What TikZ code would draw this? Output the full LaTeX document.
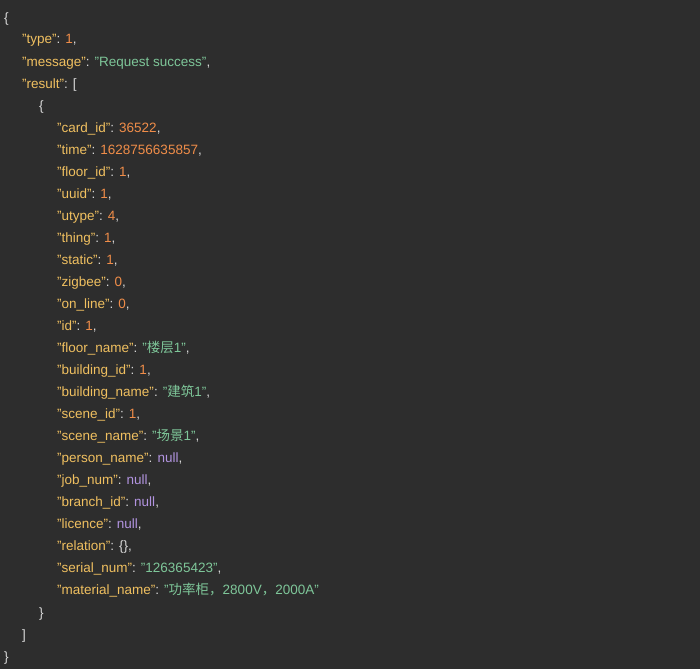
\documentclass[tikz,border=0pt]{standalone}
\usepackage{fontspec}
\setmainfont{Liberation Sans}
\newfontfamily\cjk{Noto Sans CJK SC}
\definecolor{bg}{HTML}{2D2D2D}
\definecolor{ky}{HTML}{F0C060}
\definecolor{nm}{HTML}{F08D49}
\definecolor{st}{HTML}{7EC699}
\definecolor{nl}{HTML}{B294E0}
\definecolor{pn}{HTML}{D8D8D8}
\newcommand\jq{\char34\relax}
\newcommand\jK[1]{\textcolor{ky}{\jq#1\jq}\textcolor{pn}{: }}
\newcommand\jN[1]{\textcolor{nm}{#1}\textcolor{pn}{,}}
\newcommand\jS[1]{\textcolor{st}{\jq#1\jq}}
\newcommand\jNL{\textcolor{nl}{null}\textcolor{pn}{,}}
\catcode`\_=12
\begin{document}
\begin{tikzpicture}[x=1pt,y=-1pt,
  ln/.style={anchor=base west,inner sep=0,font=\fontsize{13.5}{16}\selectfont,text=pn}]
\fill[bg] (0,0) rectangle (700,669);
\useasboundingbox (0,0) rectangle (700,669);
\node[ln] (l1) at (4,23) {\{};
\node[ln] (l2) at (22,44) {\jK{type}\jN{1}};
\node[ln] (l3) at (22,66) {\jK{message}\jS{Request success}\textcolor{pn}{,}};
\node[ln] (l4) at (22,88) {\jK{result}[};
\node[ln] (l5) at (39,110) {\{};
\foreach \i/\t in {0/{\jK{card_id}\jN{36522}},1/{\jK{time}\jN{1628756635857}},2/{\jK{floor_id}\jN{1}},
 3/{\jK{uuid}\jN{1}},4/{\jK{utype}\jN{4}},5/{\jK{thing}\jN{1}},6/{\jK{static}\jN{1}},7/{\jK{zigbee}\jN{0}},
 8/{\jK{on_line}\jN{0}},9/{\jK{id}\jN{1}},10/{\jK{floor_name}\jS{{\cjk 楼层}1}\textcolor{pn}{,}},
 11/{\jK{building_id}\jN{1}},12/{\jK{building_name}\jS{{\cjk 建筑}1}\textcolor{pn}{,}},13/{\jK{scene_id}\jN{1}},
 14/{\jK{scene_name}\jS{{\cjk 场景}1}\textcolor{pn}{,}},15/{\jK{person_name}\jNL},16/{\jK{job_num}\jNL},
 17/{\jK{branch_id}\jNL},18/{\jK{licence}\jNL},19/{\jK{relation}\{\},},
 20/{\jK{serial_num}\jS{126365423}\textcolor{pn}{,}},21/{\jK{material_name}\jS{{\cjk 功率柜，}2800V{\cjk ，}2000A}}}
  \node[ln] (k\i) at (57,{132+22*\i}) {\t};
\node[ln] (l6) at (39,617) {\}};
\node[ln] (l7) at (22,639) {]};
\node[ln] (l8) at (4,661) {\}};
\end{tikzpicture}
\end{document}
